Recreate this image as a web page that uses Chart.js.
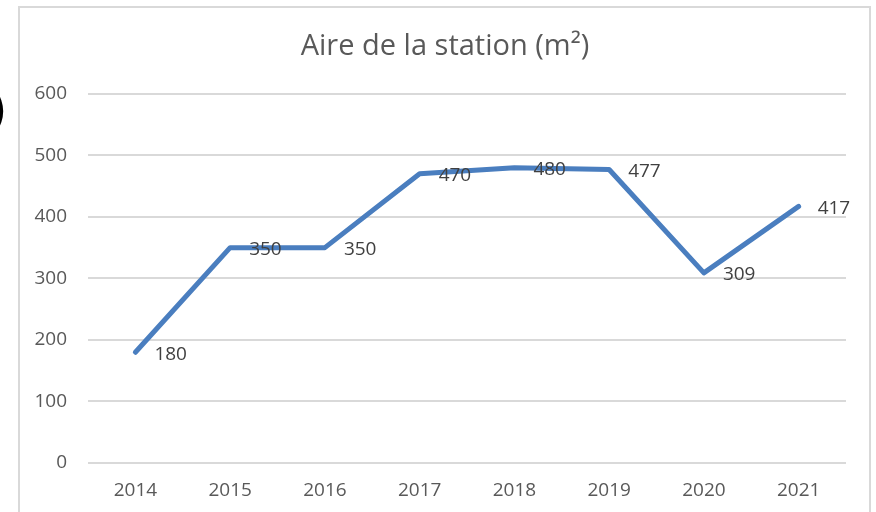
<!DOCTYPE html>
<html>
<head>
<meta charset="utf-8">
<script src="https://cdn.jsdelivr.net/npm/chart.js@4/dist/chart.umd.min.js"></script>
<style>
  html, body { margin: 0; padding: 0; background: #fff; }
  body { width: 876px; height: 512px; position: relative; overflow: hidden; }
  #cadre { position: absolute; left: 18px; top: 6px; width: 849px; height: 520px; border: 2px solid #d9d9d9; }
  #paren { position: absolute; left: -15px; top: 82px; font: bold 49px "DejaVu Sans", sans-serif; color: #000; }
  #wrap { position: absolute; left: 0; top: 0; width: 876px; height: 512px; }
</style>
</head>
<body>
<div id="cadre"></div>
<div id="paren">)</div>
<div id="wrap"><canvas id="myChart"></canvas></div>
<script>
const annees = ['2014', '2015', '2016', '2017', '2018', '2019', '2020', '2021'];
const aires = [180, 350, 350, 470, 480, 477, 309, 417];
const titre = 'Aire de la station (m²)';

const ctx = document.getElementById('myChart').getContext('2d');

// etiquettes de valeurs a droite des points
const etiquettes = {
  id: 'etiquettes',
  afterDatasetsDraw(chart) {
    const c = chart.ctx;
    const pts = chart.getDatasetMeta(0).data;
    c.save();
    c.font = '19px "Open Sans"';
    c.fillStyle = '#404040';
    c.textAlign = 'left';
    c.textBaseline = 'middle';
    pts.forEach((p, i) => {
      c.fillText(aires[i], p.x + 19, p.y + 2);
    });
    c.restore();
  }
};

// l'axe y garde toute la marge gauche pour ne pas couper les labels
const axeGauche = {
  id: 'axeGauche',
  afterLayout(chart) {
    const y = chart.scales.y;
    y.left = 0;
    y.width = y.right;
  }
};

const myChart = new Chart(ctx, {
  type: 'line',
  data: {
    labels: annees,
    datasets: [{
      data: aires,
      borderColor: '#4a7ebf',
      borderWidth: 5,
      pointRadius: 0,
      borderJoinStyle: 'round',
      borderCapStyle: 'round',
      tension: 0
    }]
  },
  options: {
    responsive: true,
    maintainAspectRatio: false,
    animation: false,
    layout: { padding: { left: 44, right: 30, top: 0, bottom: 0 } },
    plugins: {
      legend: { display: false },
      tooltip: { enabled: false },
      title: {
        display: true,
        text: titre,
        color: '#595959',
        font: { family: 'Open Sans', size: 29, weight: 'normal', lineHeight: 1.2 },
        padding: { top: 29, bottom: 30 }
      }
    },
    scales: {
      x: {
        offset: true,
        grid: { display: false, drawTicks: false },
        border: { display: false },
        ticks: { color: '#595959', font: { family: 'Open Sans', size: 19 }, padding: 16 },
        afterFit: (s) => { s.height = 49; }
      },
      y: {
        min: 0,
        max: 600,
        grid: { color: '#d9d9d9', lineWidth: 2, drawTicks: false },
        border: { display: false },
        ticks: { stepSize: 100, color: '#595959', font: { family: 'Open Sans', size: 19 }, padding: 21 },
        afterFit: (s) => { s.width = 44; }
      }
    }
  },
  plugins: [etiquettes, axeGauche]
});
</script>
</body>
</html>
